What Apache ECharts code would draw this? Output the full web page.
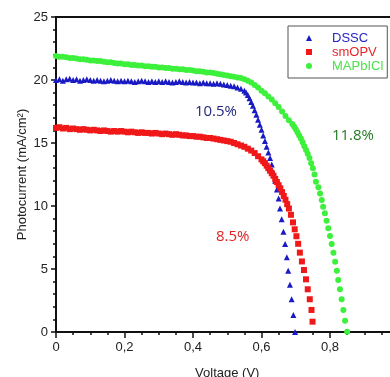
<!DOCTYPE html>
<html>
<head>
<meta charset="utf-8">
<script src="https://cdn.jsdelivr.net/npm/echarts@6/dist/echarts.min.js"></script>
<style>
  html, body { margin: 0; padding: 0; background: #fff; }
  #chart { width: 390px; height: 377px; }
</style>
</head>
<body>
<div id="chart"></div>
<script>
// voltage sweep shared by the flat part of all three curves (V)
const flatV = [0, 0.01, 0.02, 0.03, 0.04, 0.05, 0.06, 0.07, 0.08, 0.09, 0.1,
  0.11, 0.12, 0.13, 0.14, 0.15, 0.16, 0.17, 0.18, 0.19, 0.2,
  0.21, 0.22, 0.23, 0.24, 0.25, 0.26, 0.27, 0.28, 0.29, 0.3,
  0.31, 0.32, 0.33, 0.34, 0.35, 0.36, 0.37, 0.38, 0.39, 0.4,
  0.41, 0.42, 0.43, 0.44, 0.45, 0.46, 0.47, 0.48, 0.49, 0.5,
  0.51, 0.52, 0.53, 0.54, 0.55]

// DSSC
const dsscFlatI = [20.0, 20.05, 19.95, 20.05, 20.1, 20.0, 20.05, 19.95, 20.0, 20.05, 20.0,
  19.95, 20.0, 19.95, 19.9, 19.95, 20.0, 19.95, 19.9, 19.95, 19.9,
  19.95, 19.9, 19.85, 19.9, 19.95, 19.9, 19.85, 19.9, 19.85, 19.9,
  19.85, 19.9, 19.85, 19.8, 19.85, 19.9, 19.85, 19.8, 19.85, 19.8,
  19.8, 19.75, 19.8, 19.75, 19.75, 19.7, 19.75, 19.7, 19.65, 19.6,
  19.55, 19.5, 19.4, 19.3, 19.15]
const dsscKneeV = [0.555, 0.56, 0.565, 0.57, 0.575, 0.58, 0.585, 0.59, 0.595, 0.6,
  0.605, 0.61, 0.615, 0.62, 0.625, 0.63, 0.635, 0.64, 0.645, 0.65,
  0.654, 0.659, 0.664, 0.669, 0.674, 0.678, 0.683, 0.688, 0.693, 0.698]
const dsscKneeI = [19.0, 18.8, 18.55, 18.25, 17.95, 17.6, 17.25, 16.85, 16.45, 16.05,
  15.6, 15.15, 14.7, 14.25, 13.8, 13.3, 12.65, 12.0, 11.3, 10.6,
  9.8, 8.95, 7.95, 6.98, 5.93, 4.87, 3.75, 2.6, 1.35, 0.0]

// smOPV
const opvFlatI = [16.2, 16.25, 16.15, 16.2, 16.1, 16.15, 16.1, 16.05, 16.1, 16.05, 16.0,
  16.05, 16.0, 15.95, 16.0, 15.95, 15.9, 15.95, 15.9, 15.95, 15.9,
  15.85, 15.9, 15.85, 15.8, 15.85, 15.8, 15.8, 15.75, 15.8, 15.75,
  15.7, 15.75, 15.7, 15.65, 15.7, 15.65, 15.6, 15.6, 15.55, 15.55,
  15.5, 15.5, 15.45, 15.4, 15.4, 15.35, 15.3, 15.25, 15.2, 15.15,
  15.1, 15.0, 14.9, 14.8, 14.7]
const opvKneeV = [0.56, 0.57, 0.58, 0.59, 0.6,
  0.605, 0.61, 0.615, 0.62, 0.625, 0.63, 0.635, 0.64, 0.645, 0.65, 0.655, 0.66, 0.665, 0.67, 0.675, 0.68,
  0.686, 0.692, 0.697, 0.702, 0.707, 0.712, 0.718, 0.724, 0.73, 0.735, 0.741, 0.746, 0.749]
const opvKneeI = [14.55, 14.4, 14.2, 13.95, 13.7,
  13.55, 13.4, 13.2, 13.0, 12.8, 12.6, 12.4, 12.15, 11.9, 11.65, 11.4, 11.1, 10.8, 10.5, 10.15, 9.8,
  9.3, 8.7, 8.15, 7.6, 7.0, 6.3, 5.6, 4.92, 4.18, 3.39, 2.6, 1.75, 0.82]

// MAPbICl
const mapFlatI = [21.9, 21.85, 21.85, 21.8, 21.75, 21.75, 21.7, 21.65, 21.65, 21.6, 21.55,
  21.55, 21.5, 21.5, 21.45, 21.4, 21.4, 21.35, 21.3, 21.3, 21.25,
  21.25, 21.2, 21.2, 21.15, 21.15, 21.1, 21.1, 21.05, 21.05, 21.0,
  21.0, 20.95, 20.95, 20.9, 20.9, 20.85, 20.85, 20.8, 20.8, 20.75,
  20.7, 20.7, 20.65, 20.6, 20.6, 20.55, 20.5, 20.45, 20.4, 20.35,
  20.3, 20.25, 20.2, 20.15, 20.05]
const mapKneeV = [0.56, 0.57, 0.58, 0.59, 0.6, 0.61, 0.62, 0.63, 0.64, 0.65, 0.66, 0.67, 0.68, 0.69,
  0.695, 0.7, 0.705, 0.71, 0.715, 0.72, 0.725, 0.73, 0.735, 0.74, 0.745, 0.75, 0.755,
  0.759, 0.766, 0.771, 0.776, 0.78, 0.785, 0.79, 0.795, 0.8, 0.805, 0.81, 0.815, 0.82,
  0.824, 0.829, 0.834, 0.839, 0.844, 0.85]
const mapKneeI = [19.95, 19.8, 19.6, 19.4, 19.15, 18.95, 18.7, 18.45, 18.15, 17.85, 17.5, 17.15, 16.8, 16.5,
  16.3, 16.1, 15.85, 15.6, 15.35, 15.05, 14.75, 14.45, 14.15, 13.8, 13.4, 13.0, 12.5,
  11.93, 11.48, 11.0, 10.48, 9.94, 9.42, 8.83, 8.23, 7.62, 6.98, 6.29, 5.58, 4.87,
  4.13, 3.39, 2.6, 1.75, 0.9, 0.02]

const seriesNames = ['DSSC', 'smOPV', 'MAPbICl']
const seriesColors = ['#1a1ac4', '#f01818', '#3cf03c']
const legendColors = ['#2424c8', '#e8242a', '#4ce24c']
const seriesSymbols = ['triangle', 'rect', 'circle']

// efficiency labels: text, voltage, current
const effText = ['10.5%', '8.5%', '11.8%']
const effV = [0.467, 0.516, 0.867]
const effI = [17.5, 7.55, 15.6]
const effColors = ['#22287e', '#e42222', '#237a23']

function zip(vs, is) {
  return vs.map((v, i) => [v, is[i]])
}
const curves = [
  zip(flatV, dsscFlatI).concat(zip(dsscKneeV, dsscKneeI)),
  zip(flatV, opvFlatI).concat(zip(opvKneeV, opvKneeI)),
  zip(flatV, mapFlatI).concat(zip(mapKneeV, mapKneeI))
]

const font = '"Liberation Sans", Arial, sans-serif'
const chart = echarts.init(document.getElementById('chart'))

chart.setOption({
  animation: false,
  grid: {
    left: 56, top: 17, width: 342.5, height: 315,
    outerBoundsMode: 'none',
    show: true, borderColor: '#111', borderWidth: 2
  },
  legend: {
    orient: 'vertical',
    left: 288, top: 26,
    padding: [5, 4, 5, 18],
    itemWidth: 6, itemHeight: 6, itemGap: 0,
    borderColor: '#555', borderWidth: 1,
    textStyle: { fontFamily: font, fontSize: 13, lineHeight: 14, padding: [0, 0, 0, 15] },
    data: seriesNames.map((n, i) => ({ name: n, textStyle: { color: legendColors[i] } }))
  },
  xAxis: {
    type: 'value', min: 0, max: 1, interval: 0.2,
    name: 'Voltage (V)', nameLocation: 'middle', nameGap: 35, nameMoveOverlap: false,
    nameTextStyle: { fontFamily: font, fontSize: 13, color: '#222' },
    axisLine: { lineStyle: { color: '#111', width: 2 } },
    axisTick: { length: 6, lineStyle: { color: '#111', width: 1.5 } },
    minorTick: { show: true, splitNumber: 4, length: 3, lineStyle: { color: '#111', width: 1.5 } },
    splitLine: { show: false },
    axisLabel: {
      margin: 9, fontFamily: font, fontSize: 13, color: '#222',
      formatter: v => v === 0 ? '0' : v.toFixed(1).replace('.', ',')
    }
  },
  yAxis: {
    type: 'value', min: 0, max: 25, interval: 5,
    name: 'Photocurrent (mA/cm²)', nameLocation: 'middle', nameGap: 27, nameMoveOverlap: false,
    nameTextStyle: { fontFamily: font, fontSize: 13, color: '#222' },
    axisLine: { lineStyle: { color: '#111', width: 2 } },
    axisTick: { length: 5, lineStyle: { color: '#111', width: 1.5 } },
    minorTick: { show: true, splitNumber: 5, length: 3, lineStyle: { color: '#111', width: 1.5 } },
    splitLine: { show: false },
    axisLabel: { margin: 8, fontFamily: font, fontSize: 13, color: '#222' }
  },
  series: seriesNames.map((n, i) => ({
    name: n,
    type: 'scatter',
    symbol: seriesSymbols[i],
    symbolSize: 6,
    itemStyle: { color: seriesColors[i], opacity: 1 },
    data: curves[i]
  }))
})

// efficiency annotations placed at data coordinates
chart.setOption({
  graphic: effText.map((t, i) => {
    const p = chart.convertToPixel({ gridIndex: 0 }, [effV[i], effI[i]])
    return {
      type: 'text', x: p[0], y: p[1],
      style: {
        text: t, fill: effColors[i], font: '15px "Open Sans", sans-serif',
        align: 'center', verticalAlign: 'middle'
      }
    }
  })
})
</script>
</body>
</html>
